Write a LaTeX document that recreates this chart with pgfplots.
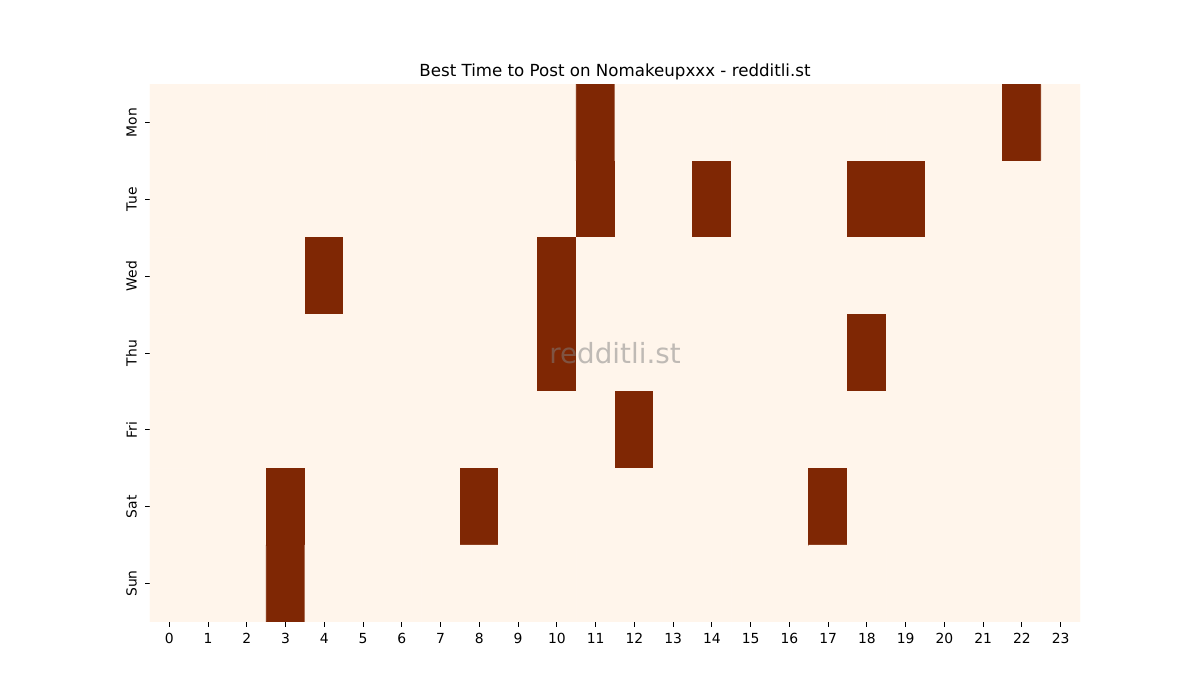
\documentclass[border=0pt]{standalone}
\usepackage{pgfplots}
\pgfplotsset{compat=1.18}
\usepackage{fontspec}
\setmainfont{DejaVu Sans}
\definecolor{lowc}{RGB}{255,245,235}
\definecolor{highc}{RGB}{127,39,4}
\begin{document}
\begin{tikzpicture}
\begin{axis}[
    scale only axis,
    width=669.6pt, height=387.36pt,
    xmin=-0.5, xmax=23.5, ymin=-0.5, ymax=6.5,
    y dir=reverse,
    axis line style={draw=none},
    xtick={0,...,23},
    ytick={0,...,6},
    yticklabels={Mon,Tue,Wed,Thu,Fri,Sat,Sun},
    yticklabel style={rotate=90, anchor=south, yshift=2.5pt},
    xticklabel style={yshift=-1pt},
    tick align=outside,
    tick pos=left,
    major tick length=3.5pt,
    tick style={black, line width=0.6pt},
    ticklabel style={font=\fontsize{10}{12}\selectfont},
    /pgf/number format/assume math mode=true,
    title={Best Time to Post on Nomakeupxxx - redditli.st},
    title style={font=\fontsize{12}{14}\selectfont, yshift=-6.3pt},
    colormap={two}{rgb255(0cm)=(255,245,235); rgb255(1cm)=(127,39,4)},
    point meta min=0, point meta max=1,
    enlargelimits=false,
    clip=true,
]
\addplot[matrix plot*, mesh/cols=24, point meta=explicit] coordinates {
(0,0)[0] (1,0)[0] (2,0)[0] (3,0)[0] (4,0)[0] (5,0)[0] (6,0)[0] (7,0)[0] (8,0)[0] (9,0)[0] (10,0)[0] (11,0)[1] (12,0)[0] (13,0)[0] (14,0)[0] (15,0)[0] (16,0)[0] (17,0)[0] (18,0)[0] (19,0)[0] (20,0)[0] (21,0)[0] (22,0)[1] (23,0)[0]

(0,1)[0] (1,1)[0] (2,1)[0] (3,1)[0] (4,1)[0] (5,1)[0] (6,1)[0] (7,1)[0] (8,1)[0] (9,1)[0] (10,1)[0] (11,1)[1] (12,1)[0] (13,1)[0] (14,1)[1] (15,1)[0] (16,1)[0] (17,1)[0] (18,1)[1] (19,1)[1] (20,1)[0] (21,1)[0] (22,1)[0] (23,1)[0]

(0,2)[0] (1,2)[0] (2,2)[0] (3,2)[0] (4,2)[1] (5,2)[0] (6,2)[0] (7,2)[0] (8,2)[0] (9,2)[0] (10,2)[1] (11,2)[0] (12,2)[0] (13,2)[0] (14,2)[0] (15,2)[0] (16,2)[0] (17,2)[0] (18,2)[0] (19,2)[0] (20,2)[0] (21,2)[0] (22,2)[0] (23,2)[0]

(0,3)[0] (1,3)[0] (2,3)[0] (3,3)[0] (4,3)[0] (5,3)[0] (6,3)[0] (7,3)[0] (8,3)[0] (9,3)[0] (10,3)[1] (11,3)[0] (12,3)[0] (13,3)[0] (14,3)[0] (15,3)[0] (16,3)[0] (17,3)[0] (18,3)[1] (19,3)[0] (20,3)[0] (21,3)[0] (22,3)[0] (23,3)[0]

(0,4)[0] (1,4)[0] (2,4)[0] (3,4)[0] (4,4)[0] (5,4)[0] (6,4)[0] (7,4)[0] (8,4)[0] (9,4)[0] (10,4)[0] (11,4)[0] (12,4)[1] (13,4)[0] (14,4)[0] (15,4)[0] (16,4)[0] (17,4)[0] (18,4)[0] (19,4)[0] (20,4)[0] (21,4)[0] (22,4)[0] (23,4)[0]

(0,5)[0] (1,5)[0] (2,5)[0] (3,5)[1] (4,5)[0] (5,5)[0] (6,5)[0] (7,5)[0] (8,5)[1] (9,5)[0] (10,5)[0] (11,5)[0] (12,5)[0] (13,5)[0] (14,5)[0] (15,5)[0] (16,5)[0] (17,5)[1] (18,5)[0] (19,5)[0] (20,5)[0] (21,5)[0] (22,5)[0] (23,5)[0]

(0,6)[0] (1,6)[0] (2,6)[0] (3,6)[1] (4,6)[0] (5,6)[0] (6,6)[0] (7,6)[0] (8,6)[0] (9,6)[0] (10,6)[0] (11,6)[0] (12,6)[0] (13,6)[0] (14,6)[0] (15,6)[0] (16,6)[0] (17,6)[0] (18,6)[0] (19,6)[0] (20,6)[0] (21,6)[0] (22,6)[0] (23,6)[0]
};
\node[text=gray, opacity=0.5, font=\fontsize{20}{24}\selectfont] at (rel axis cs:0.5,0.5) {redditli.st};
\end{axis}
\path[use as bounding box] ([shift={(-108pt,-56.16pt)}]current axis.south west) rectangle ([shift={(86.4pt,60.48pt)}]current axis.north east);
\end{tikzpicture}
\end{document}
